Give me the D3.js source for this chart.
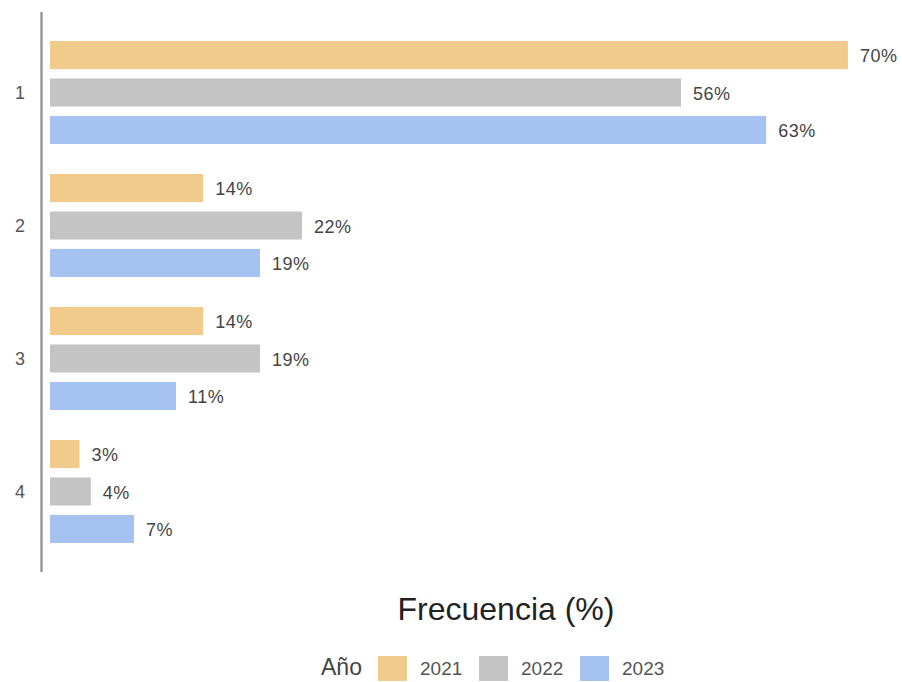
<!DOCTYPE html>
<html>
<head>
<meta charset="utf-8">
<script src="https://cdn.jsdelivr.net/npm/d3@7"></script>
<style>
  body { margin: 0; background: #fff; }
  text { font-family: "Liberation Sans", Arial, sans-serif; }
</style>
</head>
<body>
<div id="chart"></div>
<script>
var categories = ["1", "2", "3", "4"];
var years = ["2021", "2022", "2023"];
var values2021 = [70.3, 13.5, 13.5, 2.6];
var values2022 = [55.6, 22.2, 18.5, 3.6];
var values2023 = [63.1, 18.5, 11.1, 7.4];
var labels2021 = ["70%", "14%", "14%", "3%"];
var labels2022 = ["56%", "22%", "19%", "4%"];
var labels2023 = ["63%", "19%", "11%", "7%"];
var colors = ["#F0CB8C", "#C4C4C4", "#A5C2F0"];

var series = [values2021, values2022, values2023];
var seriesLabels = [labels2021, labels2022, labels2023];

var rows = [];
categories.forEach(function (c, i) {
  years.forEach(function (y, j) {
    rows.push({ cat: c, year: y, value: series[j][i], label: seriesLabels[j][i] });
  });
});

var width = 902, height = 682;
var svg = d3.select("#chart").append("svg")
  .attr("width", width)
  .attr("height", height);

var x = d3.scaleLinear().domain([0, 100]).range([50, 50 + 1135]);
var y0 = d3.scaleBand().domain(categories).range([26, 558])
  .paddingInner(0.2256).paddingOuter(0.1128);
var y1 = d3.scaleBand().domain(years).range([0, y0.bandwidth()]).paddingInner(0.25);
var color = d3.scaleOrdinal().domain(years).range(colors);

// bars
var bar = svg.selectAll("g.bar")
  .data(rows)
  .enter()
  .append("g")
  .attr("class", "bar")
  .attr("transform", function (d) {
    return "translate(0," + (y0(d.cat) + y1(d.year)) + ")";
  });

bar.append("rect")
  .attr("x", x(0))
  .attr("y", 0)
  .attr("width", function (d) { return x(d.value) - x(0); })
  .attr("height", y1.bandwidth())
  .attr("fill", function (d) { return color(d.year); });

bar.append("text")
  .attr("x", function (d) { return x(d.value) + 12; })
  .attr("y", y1.bandwidth() / 2 + 1)
  .attr("dy", "0.35em")
  .attr("font-size", 18)
  .attr("letter-spacing", 0.5)
  .attr("fill", "#444")
  .text(function (d) { return d.label; });

// y axis
svg.append("line")
  .attr("x1", 41.5).attr("x2", 41.5)
  .attr("y1", 12).attr("y2", 572)
  .attr("stroke", "#999")
  .attr("stroke-width", 2.5);

var yAxis = d3.axisLeft(y0).tickSize(0).tickPadding(0);
var gy = svg.append("g")
  .attr("transform", "translate(25,1)")
  .call(yAxis);
gy.select(".domain").remove();
gy.selectAll("text")
  .attr("font-size", 18)
  .attr("fill", "#555")
  .style("font-family", "\"Liberation Sans\", Arial, sans-serif");

// x axis title
svg.append("text")
  .attr("x", 506)
  .attr("y", 620)
  .attr("text-anchor", "middle")
  .attr("font-size", 32)
  .attr("fill", "#222")
  .text("Frecuencia (%)");

// legend
var legend = svg.append("g").attr("transform", "translate(0,668)");
legend.append("text")
  .attr("x", 321)
  .attr("y", 7)
  .attr("font-size", 23)
  .attr("fill", "#444")
  .text("Año");

var item = legend.selectAll("g.item")
  .data(years)
  .enter()
  .append("g")
  .attr("class", "item")
  .attr("transform", function (d, i) { return "translate(" + (378 + i * 101) + ",0)"; });

item.append("rect")
  .attr("x", 0)
  .attr("y", -12)
  .attr("width", 29)
  .attr("height", 25)
  .attr("fill", function (d) { return color(d); });

item.append("text")
  .attr("x", 42)
  .attr("y", 7)
  .attr("font-size", 19)
  .attr("fill", "#555")
  .text(function (d) { return d; });
</script>
</body>
</html>
